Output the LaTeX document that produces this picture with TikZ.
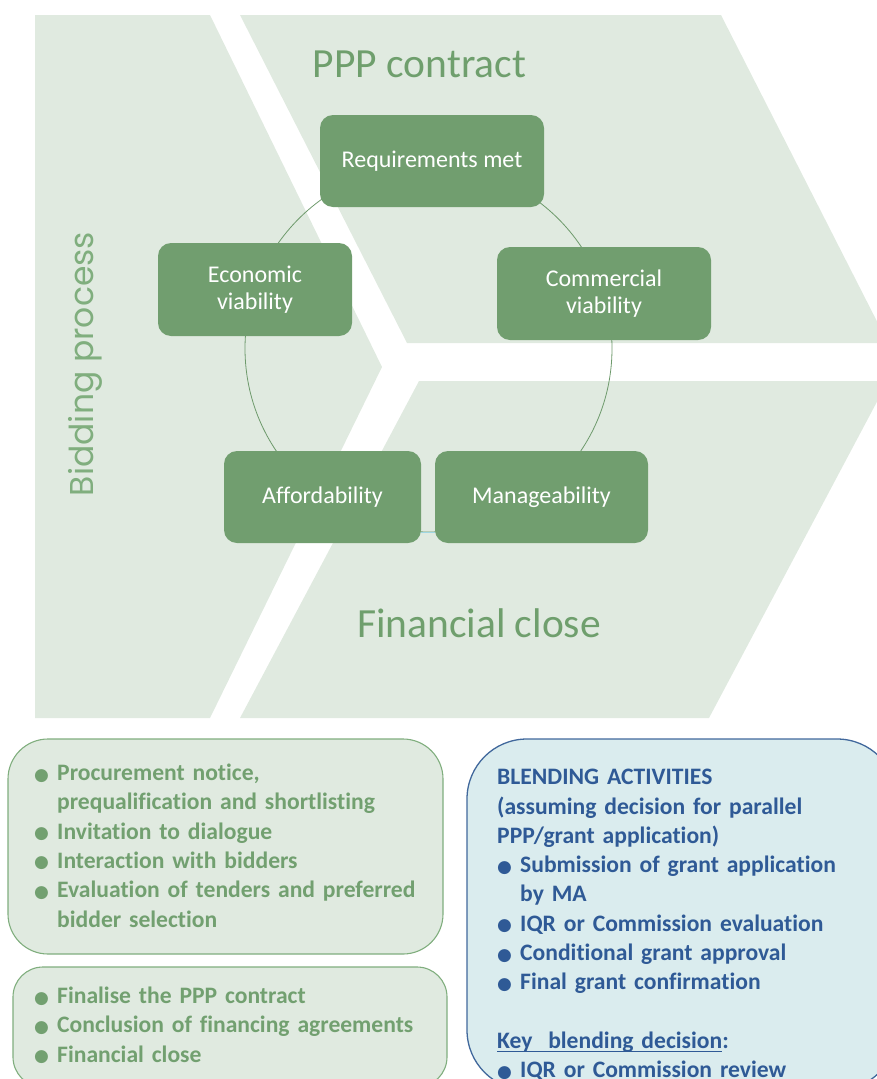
\documentclass[tikz,border=0pt]{standalone}
\usepackage{fontspec}
\setmainfont{Carlito}[Ligatures=NoCommon]
\newfontfamily\gothic{Poppins}
\newfontfamily\dejavu{DejaVu Sans}
\definecolor{bgg}{HTML}{E0EAE0}
\definecolor{boxg}{HTML}{719E6F}
\definecolor{titleg}{HTML}{6F9F6D}
\definecolor{sideg}{HTML}{80AE7E}
\definecolor{listg}{HTML}{72A070}
\definecolor{lineg}{HTML}{6E9A6C}
\definecolor{blueT}{HTML}{2F5A96}
\definecolor{blueB}{HTML}{41689C}
\definecolor{blueF}{HTML}{DAECEE}
\definecolor{ringblue}{HTML}{9FD7E3}
\newcommand\bul{\makebox[23pt][l]{\raisebox{0.5pt}{\dejavu\fontsize{17}{17}\selectfont ●}}}
\newcommand\itm[1]{\par\noindent\hangindent=23pt\hangafter=1\strut\bul#1\par}
\newcommand\keyul[1]{\setbox0\hbox{#1}\rlap{\rule[-4pt]{\wd0}{1.5pt}}\box0}
\begin{document}
\begin{tikzpicture}[x=1pt,y=-1pt,
  gbox/.style={fill=boxg, rounded corners=13pt, text=white, font=\fontsize{24}{27}\selectfont, align=center, inner sep=0pt},
  lbox/.style={fill=bgg, draw=sideg, line width=1.1pt},
  liststyle/.style={anchor=north west, inner sep=0pt, text width=#1, align=left, font=\fontsize{23.6}{29.3}\selectfont\bfseries},
  title/.style={anchor=base, text=titleg, font=\fontsize{41.5}{41.5}\selectfont, inner sep=0pt},
]
\path[use as bounding box] (0,0) rectangle (877,1079);
\begin{scope}
\clip (0,0) rectangle (877,1079);
% background chevrons
\fill[bgg] (35,15) -- (210,15) -- (382,367) -- (210,718) -- (35,718) -- cycle;
\fill[bgg] (240,15) -- (721,15) -- (888,343) -- (407,343) -- cycle;
\fill[bgg] (419,381) -- (888,381) -- (709,718) -- (240,718) -- cycle;
% titles
\node[title] (ppp) at (419.5,77) {PPP contract};
\node[title] (fin) at (479,637) {Financial close};
\node[anchor=base, rotate=90, text=sideg, font=\gothic\fontsize{33}{33}\selectfont, inner sep=0pt] (bid) at (93,364) {Bidding process};
% ring
\node[circle, draw=lineg, line width=0.8pt, minimum size=367pt, inner sep=0pt] (ring) at (428.5,348.5) {};
% cycle boxes
\node[gbox, minimum width=224pt, minimum height=92pt] (req) at (432,161) {Requirements met};
\node[gbox, minimum width=194pt, minimum height=93pt] (eco) at (255,289.5) {Economic\\viability};
\node[gbox, minimum width=214pt, minimum height=93pt] (com) at (604,293.5) {Commercial\\viability};
\node[gbox, minimum width=197pt, minimum height=92pt] (aff) at (322.5,497) {Affordability};
\node[gbox, minimum width=213pt, minimum height=92pt] (man) at (541.5,497) {Manageability};
\draw[ringblue, line width=1pt] ([yshift=11pt]aff.south east) -- ([yshift=11pt]man.south west);
% bottom boxes
\node[lbox, rounded corners=40pt, minimum width=435pt, minimum height=215pt] (boxA) at (225.5,846.5) {};
\node[lbox, rounded corners=30pt, minimum width=434pt, minimum height=120pt] (boxB) at (230,1027) {};
\node[fill=blueF, draw=blueB, line width=1.3pt, rounded corners=60pt, minimum width=430pt, minimum height=351pt] (boxC) at (682,914.5) {};
\node[liststyle=420pt, text=listg] (tA) at (34,751) {\itm{Procurement notice,\newline prequalification and shortlisting}\itm{Invitation to dialogue}\itm{Interaction with bidders}\itm{Evaluation of tenders and preferred\newline bidder selection}};
\node[liststyle=420pt, text=listg] (tB) at (34,974) {\itm{Finalise the PPP contract}\itm{Conclusion of financing agreements}\itm{Financial close}};
\node[liststyle=375pt, text=blueT] (tC) at (497,764) {\noindent\strut BLENDING ACTIVITIES\par\noindent\strut(assuming decision for parallel\par\noindent\strut PPP/grant application)\par\itm{Submission of grant application\newline by MA}\itm{IQR or Commission evaluation}\itm{Conditional grant approval}\itm{Final grant confirmation}\noindent\strut\par\noindent\strut\keyul{Key\ \ blending decision}:\par\itm{IQR or Commission review}};
\end{scope}
\end{tikzpicture}
\end{document}
